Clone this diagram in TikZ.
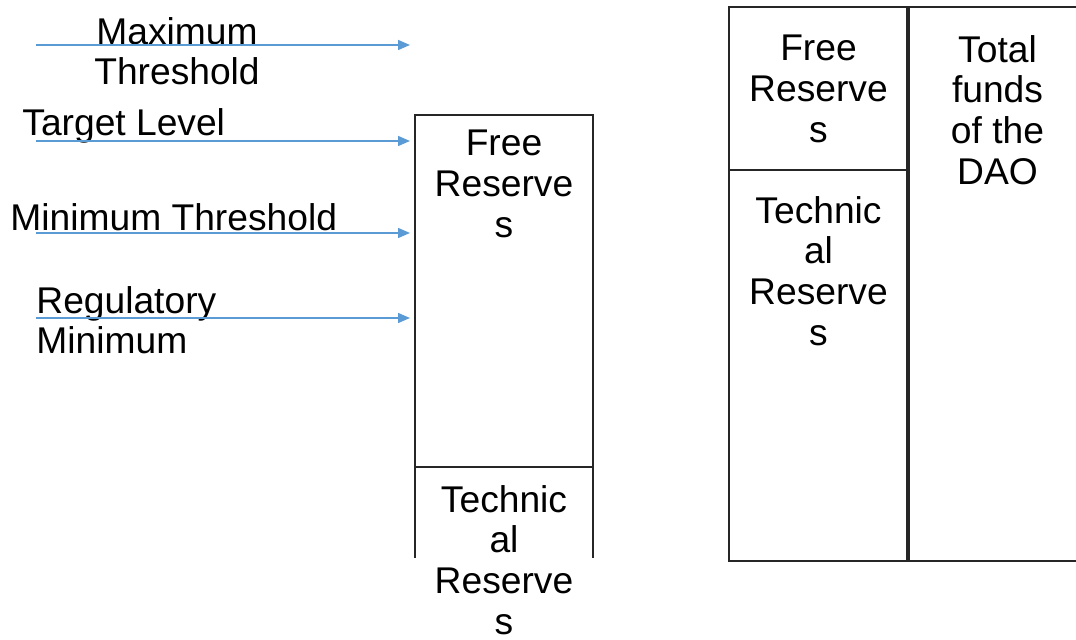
\documentclass[tikz,border=0pt]{standalone}
\usepackage{fontspec}
\setmainfont{Liberation Sans}
\usetikzlibrary{arrows.meta}
\definecolor{lvlblue}{RGB}{91,155,213}
\tikzset{
  lvlarrow/.style={draw=lvlblue, line width=0.75pt, -{Triangle[length=6pt,width=5pt]}},
  boxline/.style={draw=black!85, line width=1pt},
  lbl/.style={inner sep=0pt, font=\fontsize{18.6}{20.3}\selectfont},
  cell/.style={lbl, anchor=north, align=center}
}
\begin{document}
\begin{tikzpicture}[x=0.5pt,y=-0.5pt]
      \useasboundingbox (0,0) rectangle (1076,640);
      % levels on the left
      \node[lbl, anchor=north, align=center] (maxlbl) at (177,17) {Maximum\\Threshold};
      \node[lbl, anchor=north west] (tgtlbl) at (22,108) {Target Level};
      \node[lbl, anchor=north west] (minlbl) at (10,203) {Minimum Threshold};
      \node[lbl, anchor=north west, align=left] (reglbl) at (36,286) {Regulatory\\Minimum};
      \coordinate (maxS) at (36,45);   \coordinate (maxE) at (410,45);
      \coordinate (tgtS) at (36,141);  \coordinate (tgtE) at (410,141);
      \coordinate (minS) at (36,233);  \coordinate (minE) at (410,233);
      \coordinate (regS) at (36,318);  \coordinate (regE) at (410,318);
      \draw[lvlarrow] (maxS) -- (maxE);
      \draw[lvlarrow] (tgtS) -- (tgtE);
      \draw[lvlarrow] (minS) -- (minE);
      \draw[lvlarrow] (regS) -- (regE);
      % reserves column
      \draw[boxline] (415,558) -- (415,115) -- (593,115) -- (593,558);
      \draw[boxline] (415,467) -- (593,467);
      \node[cell] (freeL) at (504,130) {Free\\Reserve\\s};
      \node[cell] (techL) at (504,485) {Technic\\al\\Reserve\\s};
      % funds of the DAO
      \draw[boxline] (1076,7) -- (729,7) -- (729,561) -- (1076,561);
      \draw[boxline] (729,170) -- (908,170);
      \draw[boxline, line width=2pt] (908,7) -- (908,561);
      \node[cell] (freeR) at (818.5,35) {Free\\Reserve\\s};
      \node[cell] (techR) at (818.5,196) {Technic\\al\\Reserve\\s};
      \node[cell] (total) at (997.5,35) {Total\\funds\\of the\\DAO};
    \end{tikzpicture}
\end{document}
